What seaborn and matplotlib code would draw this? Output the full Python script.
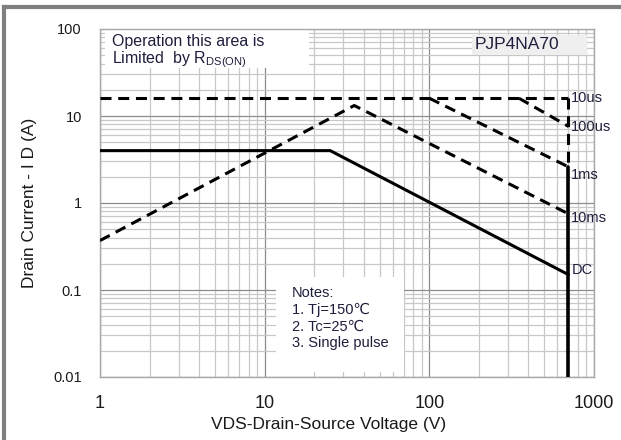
import numpy as np
import pandas as pd
import matplotlib
matplotlib.use('Agg')
import matplotlib.pyplot as plt
import seaborn as sns
from matplotlib.patches import Rectangle
from matplotlib.lines import Line2D

# SOA curves (V in volts, I in amps)
us10_v = [1, 700]
us10_i = [16, 16]
us100_v = [350, 700]
us100_i = [16, 7.6]
ms1_v = [100, 700]
ms1_i = [16, 2.6]
ms10_v = [1, 35, 700]
ms10_i = [0.37, 13.2, 0.75]
dc_v = [1, 25, 700]
dc_i = [4, 4, 0.15]
vmax_dash_i = [16, 2.6]
vmax_solid_i = [2.6, 0.01]
vmax = 700

curve_labels = ['10us', '100us', '1ms', '10ms', 'DC']
label_y = [16, 7.5, 2.1, 0.67, 0.17]

x_ticks = [1, 10, 100, 1000]
x_ticklabels = ['1', '10', '100', '1000']
y_ticks = [0.01, 0.1, 1, 10, 100]
y_ticklabels = ['0.01', '0.1', '1', '10', '100']

sns.set_style('white')
plt.rcParams['font.family'] = ['Liberation Sans', 'DejaVu Sans']
plt.rcParams['mathtext.fontset'] = 'custom'
plt.rcParams['mathtext.rm'] = 'Liberation Sans'
plt.rcParams['lines.dashed_pattern'] = [3.6, 2.2]

fig = plt.figure(figsize=(6.21, 4.40), dpi=100)
ax = fig.add_axes([100 / 621, 1 - 377 / 440, 494 / 621, 348 / 440])

ax.set_xscale('log')
ax.set_yscale('log')
ax.set_xlim(1, 1000)
ax.set_ylim(0.01, 100)

ax.grid(which='major', color='#8c8c8c', lw=0.9, zorder=0)
ax.grid(which='minor', color='#c8c8c8', lw=0.9, zorder=0)
ax.set_axisbelow(True)
for s in ax.spines.values():
    s.set_color('#a8a8a8')
    s.set_linewidth(1)

# white boxes hiding the grid behind the notes
ax.add_patch(Rectangle((0.356, 0.014), 0.259, 0.273, transform=ax.transAxes,
                       fc='white', ec='none', zorder=1))
ax.add_patch(Rectangle((0.010, 0.888), 0.413, 0.11, transform=ax.transAxes,
                       fc='white', ec='none', zorder=1))
ax.add_patch(Rectangle((0.753, 0.925), 0.233, 0.058, transform=ax.transAxes,
                       fc='#efefef', ec='none', zorder=1))

lw = 2.2
for v, i in [(us10_v, us10_i), (us100_v, us100_i), (ms1_v, ms1_i), (ms10_v, ms10_i)]:
    sns.lineplot(x=v, y=i, ax=ax, color='black', lw=lw, linestyle='--',
                 sort=False, estimator=None, zorder=3)
sns.lineplot(x=dc_v, y=dc_i, ax=ax, color='black', lw=lw, sort=False,
             estimator=None, zorder=3)
sns.lineplot(x=[vmax, vmax], y=vmax_dash_i, ax=ax, color='black', lw=lw,
             linestyle='--', sort=False, estimator=None, zorder=3)
sns.lineplot(x=[vmax, vmax], y=vmax_solid_i, ax=ax, color='black', lw=lw + 0.4,
             sort=False, estimator=None, zorder=3)

txt_c = '#1e1e3c'
for lab, yv in zip(curve_labels, label_y):
    ax.text(728, yv, lab, fontsize=10.5, color=txt_c, ha='left', va='center', zorder=4)

ax.text(0.025, 0.965, 'Operation this area is', transform=ax.transAxes,
        fontsize=11.5, color=txt_c, ha='left', va='center', zorder=4)
ax.text(0.025, 0.912, r'Limited  by R$_{\mathrm{DS(ON)}}$', transform=ax.transAxes,
        fontsize=11.5, color=txt_c, ha='left', va='center', zorder=4)
ax.text(0.758, 0.955, 'PJP4NA70', transform=ax.transAxes,
        fontsize=12.5, color=txt_c, ha='left', va='center', zorder=4)
ax.text(0.389, 0.262, 'Notes:\n1. Tj=150\u2103\n2. Tc=25\u2103\n3. Single pulse',
        transform=ax.transAxes, fontsize=10.5, color=txt_c, ha='left', va='top',
        linespacing=1.25, zorder=4)

ax.set_xticks(x_ticks)
ax.set_xticklabels(x_ticklabels)
ax.set_yticks(y_ticks)
ax.set_yticklabels(y_ticklabels)
ax.tick_params(axis='x', which='both', length=0, pad=13, labelsize=13, labelcolor='#1a1a1a')
ax.tick_params(axis='y', which='both', length=0, pad=13, labelsize=10.5, labelcolor='#1a1a1a')

ax.set_xlabel('VDS-Drain-Source Voltage (V)', fontsize=12.5, color='#1a1a1a')
ax.set_ylabel('Drain Current - I D (A)', fontsize=12.5, color='#1a1a1a')
ax.xaxis.set_label_coords(0.4636, -0.115)
ax.yaxis.set_label_coords(-0.128, 0.5)

# grey frame of the datasheet page
fig.add_artist(Line2D([4 / 621, 4 / 621], [0, 1 - 7 / 440], color='#7f7f7f', lw=3,
                      transform=fig.transFigure, solid_capstyle='projecting'))
fig.add_artist(Line2D([4 / 621, 1], [1 - 7 / 440, 1 - 7 / 440], color='#7f7f7f', lw=3,
                      transform=fig.transFigure, solid_capstyle='projecting'))

fig.savefig('out.png', dpi=100)
